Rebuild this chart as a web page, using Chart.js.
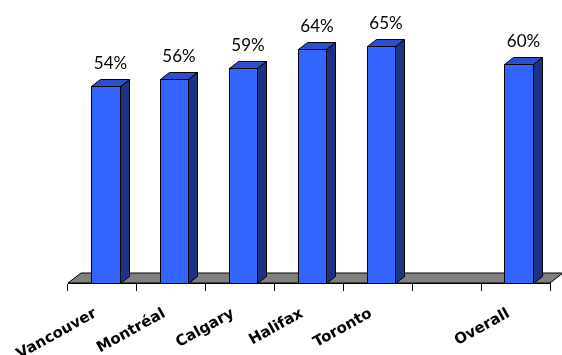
<!DOCTYPE html>
<html>
<head>
<meta charset="utf-8">
<script src="https://cdn.jsdelivr.net/npm/chart.js@4/dist/chart.umd.min.js"></script>
<style>
  html, body { margin: 0; padding: 0; background: #fff; }
  #wrap { width: 562px; height: 355px; }
</style>
</head>
<body>
<div id="wrap"><canvas id="cityChart"></canvas></div>
<script>
// categories and values (percent)
const cities = ['Vancouver', 'Montréal', 'Calgary', 'Halifax', 'Toronto', '', 'Overall'];
const shares = [54, 56, 59, 64, 65, null, 60];
const valueMax = 77;

const DEPTH_X = 9, DEPTH_Y = 7;      // bar depth
const FLOOR_X = 13, FLOOR_Y = 10;    // floor depth
const BAR_SHIFT = 3;
const LABEL_ANGLE = 29 * Math.PI / 180;

// grey floor under the bars
const floorPlugin = {
  id: 'floor',
  beforeDatasetsDraw(chart) {
    const { ctx, chartArea } = chart;
    const l = chartArea.left, r = chartArea.right, b = chartArea.bottom;
    ctx.save();
    ctx.beginPath();
    ctx.moveTo(l, b);
    ctx.lineTo(r, b);
    ctx.lineTo(r + FLOOR_X, b - FLOOR_Y);
    ctx.lineTo(l + FLOOR_X, b - FLOOR_Y);
    ctx.closePath();
    ctx.fillStyle = '#808080';
    ctx.fill();
    ctx.strokeStyle = '#000';
    ctx.lineWidth = 1;
    ctx.stroke();
    ctx.restore();
  }
};

// 3d boxes + value labels
const boxPlugin = {
  id: 'boxes',
  afterDatasetsDraw(chart) {
    const { ctx } = chart;
    const meta = chart.getDatasetMeta(0);
    ctx.save();
    ctx.lineWidth = 1;
    ctx.strokeStyle = '#000';
    meta.data.forEach((bar, i) => {
      if (shares[i] == null) return;
      const p = bar.getProps(['x', 'y', 'base', 'width'], true);
      const x0 = Math.round(p.x - p.width / 2 + BAR_SHIFT) + 0.5;
      const x1 = Math.round(p.x + p.width / 2 + BAR_SHIFT) + 0.5;
      const top = Math.round(p.y) + 0.5;
      const base = Math.round(p.base) + 0.5;

      // side
      ctx.beginPath();
      ctx.moveTo(x1, base);
      ctx.lineTo(x1, top);
      ctx.lineTo(x1 + DEPTH_X, top - DEPTH_Y);
      ctx.lineTo(x1 + DEPTH_X, base - DEPTH_Y);
      ctx.closePath();
      ctx.fillStyle = '#1c3282';
      ctx.fill();
      ctx.stroke();

      // top
      ctx.beginPath();
      ctx.moveTo(x0, top);
      ctx.lineTo(x1, top);
      ctx.lineTo(x1 + DEPTH_X, top - DEPTH_Y);
      ctx.lineTo(x0 + DEPTH_X, top - DEPTH_Y);
      ctx.closePath();
      ctx.fillStyle = '#2a50d0';
      ctx.fill();
      ctx.stroke();

      // front
      ctx.fillStyle = '#3366ff';
      ctx.fillRect(x0, top, x1 - x0, base - top);
      ctx.strokeRect(x0, top, x1 - x0, base - top);

      // value
      ctx.fillStyle = '#000';
      ctx.font = '17px Lato, sans-serif';
      ctx.textAlign = 'center';
      ctx.textBaseline = 'middle';
      ctx.fillText(shares[i] + '%', (x0 + x1 + DEPTH_X) / 2, top - 23);
    });
    ctx.restore();
  }
};

// slanted category names under the floor
const cityLabels = {
  id: 'cityLabels',
  afterDraw(chart) {
    const { ctx } = chart;
    const xs = chart.scales.x;
    ctx.save();
    ctx.fillStyle = '#000';
    ctx.font = 'bold 15px "DejaVu Sans", sans-serif';
    ctx.textAlign = 'right';
    ctx.textBaseline = 'alphabetic';
    cities.forEach((name, i) => {
      if (!name) return;
      ctx.save();
      ctx.translate(xs.getPixelForTick(i) - 5, xs.top + 33);
      ctx.rotate(-LABEL_ANGLE);
      ctx.fillText(name, 0, 0);
      ctx.restore();
    });
    ctx.restore();
  }
};

new Chart(document.getElementById('cityChart'), {
  type: 'bar',
  data: {
    labels: cities,
    datasets: [{
      data: shares,
      backgroundColor: 'rgba(0,0,0,0)',
      borderWidth: 0,
      barPercentage: 0.41,
      categoryPercentage: 1
    }]
  },
  options: {
    responsive: true,
    maintainAspectRatio: false,
    animation: false,
    layout: { padding: { left: 68, right: 12, top: 2, bottom: 0 } },
    plugins: {
      legend: { display: false },
      tooltip: { enabled: false }
    },
    scales: {
      y: { display: false, min: 0, max: valueMax },
      x: {
        afterFit(scale) {
          scale.height = 72;
          scale.paddingLeft = 0;
          scale.paddingRight = 0;
        },
        border: { display: true, color: '#000' },
        grid: {
          offset: true,
          drawOnChartArea: false,
          drawTicks: true,
          tickLength: 8,
          color: '#000'
        },
        ticks: { display: false, autoSkip: false }
      }
    }
  },
  plugins: [floorPlugin, boxPlugin, cityLabels]
});
</script>
</body>
</html>
